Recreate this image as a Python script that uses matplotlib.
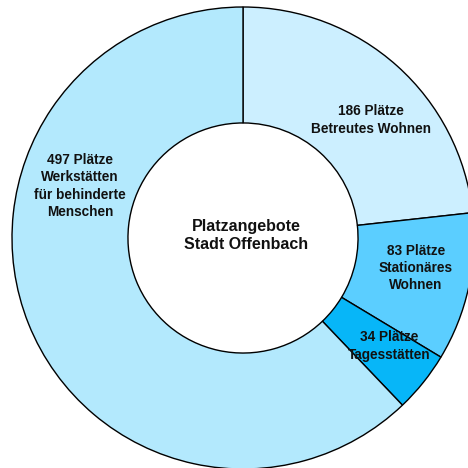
import matplotlib
matplotlib.use("Agg")
import matplotlib.pyplot as plt

# Data
categories = ["Betreutes Wohnen", "Stationäres Wohnen", "Tagesstätten", "Werkstätten für behinderte Menschen"]
values = [186, 83, 34, 497]
labels = ["186 Plätze\nBetreutes Wohnen",
          "83 Plätze\nStationäres\nWohnen",
          "34 Plätze\nTagesstätten",
          "497 Plätze\nWerkstätten\nfür behinderte\nMenschen"]
center_title = "Platzangebote\nStadt Offenbach"

colors = ["#CCEFFF", "#5BCEFF", "#07B6F8", "#B3E9FD"]
# label positions (axes-data units, pie radius = 1)
label_pos = [(0.554, 0.511), (0.749, -0.130), (0.632, -0.468), (-0.706, 0.225)]

fig = plt.figure(figsize=(4.68, 4.68), dpi=100)
ax = fig.add_axes([0, 0, 1, 1])
ax.pie(values, colors=colors, startangle=90, counterclock=False, radius=1.0,
       wedgeprops=dict(width=0.502, edgecolor="black", linewidth=1.0))
ax.set_xlim(-243/231, (468-243)/231)
ax.set_ylim((238-468)/231, 238/231)
ax.set_aspect("equal")
ax.axis("off")

for (x, y), lab in zip(label_pos, labels):
    ax.text(x, y, lab, ha="center", va="center", fontsize=9.8, fontweight="bold",
            family="Liberation Sans", linespacing=1.3, color="#111111")

ax.text(0.013, 0.012, center_title, ha="center", va="center", fontsize=11.5,
        fontweight="bold", family="Liberation Sans", linespacing=1.25, color="#111111")

fig.savefig("out.png", dpi=100)
